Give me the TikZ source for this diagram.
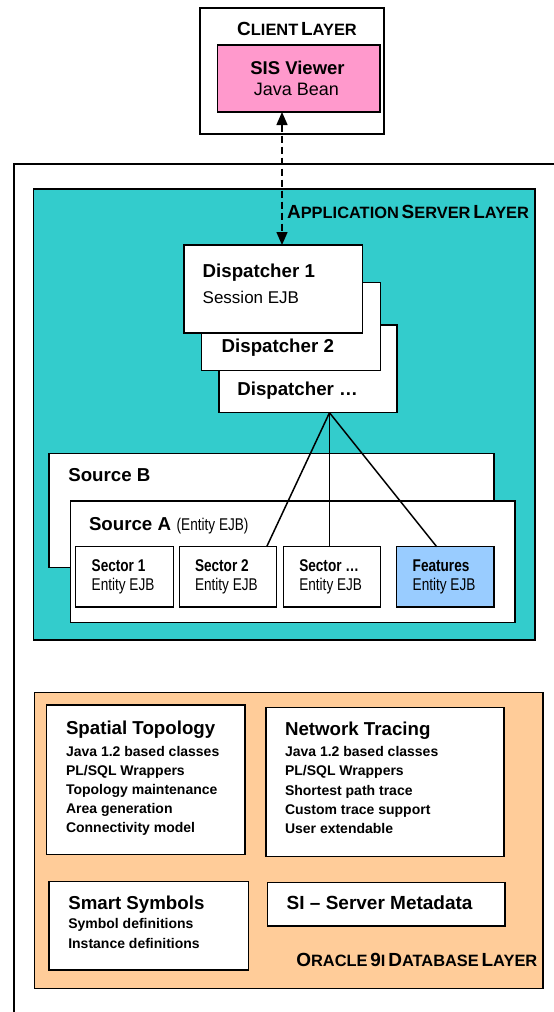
\documentclass[tikz,border=0pt]{standalone}
\usepackage{fontspec}
\setmainfont{Liberation Sans}
\newfontfamily\narrowsans[FakeStretch=0.8]{Liberation Sans}
\usetikzlibrary{arrows.meta}
\definecolor{pinkc}{HTML}{FF99CC}
\definecolor{tealc}{HTML}{33CCCC}
\definecolor{bluec}{HTML}{99CCFF}
\definecolor{orangec}{HTML}{FFCC99}
\newcommand\scpair[2]{{\fontsize{19}{22}\selectfont #1}{\fontsize{16.4}{19}\selectfont #2}}
\begin{document}
\begin{tikzpicture}[x=1pt,y=-1pt,
  box/.style={draw=black, line width=1.5pt, fill=white, inner sep=0pt, outer sep=0pt, anchor=north west},
  txt/.style={anchor=base west, inner sep=0pt, outer sep=0pt},
  bigtitle/.style={txt, font=\bfseries\fontsize{18.7}{22}\selectfont},
  bodyb/.style={txt, font=\bfseries\fontsize{14}{17}\selectfont},
  sectit/.style={txt, font=\narrowsans\bfseries\fontsize{17}{20}\selectfont},
  secsub/.style={txt, font=\narrowsans\fontsize{17}{20}\selectfont},
  layerlbl/.style={inner sep=0pt, outer sep=0pt, font=\bfseries},
  conn/.style={draw=black, line width=1.5pt}
]
\useasboundingbox (0,0) rectangle (554,1012);

% client layer
\node[box, minimum width=184pt, minimum height=126pt] (client) at (200,8) {};
\node[layerlbl, anchor=base] (clientlbl) at (297,35) {\scpair{C}{LIENT} \scpair{L}{AYER}};
\node[box, fill=pinkc, minimum width=162.5pt, minimum height=67pt] (sis) at (217.5,45) {};
\node[txt, anchor=base, font=\bfseries\fontsize{18.5}{22}\selectfont] (sist) at (297.5,74) {SIS Viewer};
\node[txt, anchor=base, font=\fontsize{18}{22}\selectfont] (sisb) at (296.5,95) {Java Bean};

% outer frame
\coordinate (fbl) at (14,1012);
\coordinate (ftl) at (14,164);
\coordinate (ftr) at (554,164);
\draw[conn] (fbl) -- (ftl) -- (ftr);

% application server layer
\node[box, fill=tealc, minimum width=501.5pt, minimum height=451pt] (app) at (33.5,189) {};
\node[layerlbl, anchor=base east] (applbl) at (529,218) {\scpair{A}{PPLICATION} \scpair{S}{ERVER} \scpair{L}{AYER}};

% dispatchers
\node[box, minimum width=178pt, minimum height=87.7pt] (d3) at (219,325) {};
\node[box, minimum width=179pt, minimum height=88pt] (d2) at (201.5,282.5) {};
\node[box, minimum width=178.5pt, minimum height=88pt] (d1) at (184,245) {};
\node[bigtitle] (d1t) at (202.7,277.7) {Dispatcher 1};
\node[txt, font=\fontsize{17}{20}\selectfont] (d1s) at (202.7,303.3) {Session EJB};
\node[bigtitle] (d2t) at (221.7,352.7) {Dispatcher 2};
\node[bigtitle] (d3t) at (237.3,395) {Dispatcher \ldots};

% dashed arrow
\coordinate (ax) at (282,0);
\draw[line width=1.4pt, dash pattern=on 7pt off 4pt,
  {Triangle[length=13pt,width=11pt]}-{Triangle[length=13pt,width=11pt]}]
  (sis.south -| ax) -- (d1.north -| ax);

% sources
\node[box, minimum width=445pt, minimum height=114pt] (srcb) at (49,453.3) {};
\node[bigtitle] (srcbt) at (68.3,481) {Source B};
\node[box, minimum width=444.3pt, minimum height=121.7pt] (srca) at (70.7,501) {};
\node[bigtitle] (srcat) at (89,530) {Source A};
\node[secsub, anchor=base west] (srcas) at (176.7,530) {(Entity EJB)};

% sectors
\node[box, minimum width=97.6pt, minimum height=60.3pt] (s1) at (75.7,546.7) {};
\node[box, minimum width=97.4pt, minimum height=60.3pt] (s2) at (179.3,546.7) {};
\node[box, minimum width=97pt, minimum height=60.3pt] (s3) at (283.7,546.7) {};
\node[box, fill=bluec, minimum width=97.3pt, minimum height=60.3pt] (feat) at (396.7,546.7) {};
\node[sectit] (s1t) at (91.7,571.7) {Sector 1};
\node[secsub] (s1s) at (91.7,590) {Entity EJB};
\node[sectit] (s2t) at (195,571.7) {Sector 2};
\node[secsub] (s2s) at (195,590) {Entity EJB};
\node[sectit] (s3t) at (299.3,571.7) {Sector \ldots};
\node[secsub] (s3s) at (299.3,590) {Entity EJB};
\node[sectit] (ft) at (412.7,571.7) {Features};
\node[secsub] (fs) at (412.7,590) {Entity EJB};

% connectors from dispatcher
\coordinate (apx) at (329.5,0);
\coordinate (s2x) at (266.7,0);
\coordinate (fx) at (436.7,0);
\draw[conn] (d3.south -| apx) -- (s2.north -| s2x);
\draw[conn] (d3.south -| apx) -- (s3.north -| apx);
\draw[conn] (d3.south -| apx) -- (feat.north -| fx);

% oracle layer
\node[box, fill=orangec, minimum width=508.5pt, minimum height=295.6pt] (ora) at (34.5,692.7) {};
\node[layerlbl, anchor=base east] (oralbl) at (537.3,966) {\scpair{O}{RACLE} \scpair{9}{I} \scpair{D}{ATABASE} \scpair{L}{AYER}};

\node[box, minimum width=198.3pt, minimum height=149.3pt] (spat) at (46.7,705) {};
\node[bigtitle] (spatt) at (66,734) {Spatial Topology};
\foreach \t [count=\i] in {Java 1.2 based classes, PL/SQL Wrappers, Topology maintenance, Area generation, Connectivity model}
  \node[bodyb] (sp\i) at (66,{756+19.2*(\i-1)}) {\t};

\node[box, minimum width=238pt, minimum height=149.4pt] (net) at (266,707.3) {};
\node[bigtitle] (nett) at (285,735.7) {Network Tracing};
\foreach \t [count=\i] in {Java 1.2 based classes, PL/SQL Wrappers, Shortest path trace, Custom trace support, User extendable}
  \node[bodyb] (nt\i) at (285,{756.7+19.15*(\i-1)}) {\t};

\node[box, minimum width=199.3pt, minimum height=88.3pt] (smart) at (49,881.7) {};
\node[bigtitle] (smartt) at (68.3,909.3) {Smart Symbols};
\node[bodyb] (sm1) at (68.3,928.3) {Symbol definitions};
\node[bodyb] (sm2) at (68.3,948.3) {Instance definitions};

\node[box, minimum width=237.3pt, minimum height=43.5pt] (si) at (267.7,882.5) {};
\node[txt, font=\bfseries\fontsize{19}{22}\selectfont] (sit) at (286.7,909.3) {SI -- Server Metadata};
\end{tikzpicture}
\end{document}
